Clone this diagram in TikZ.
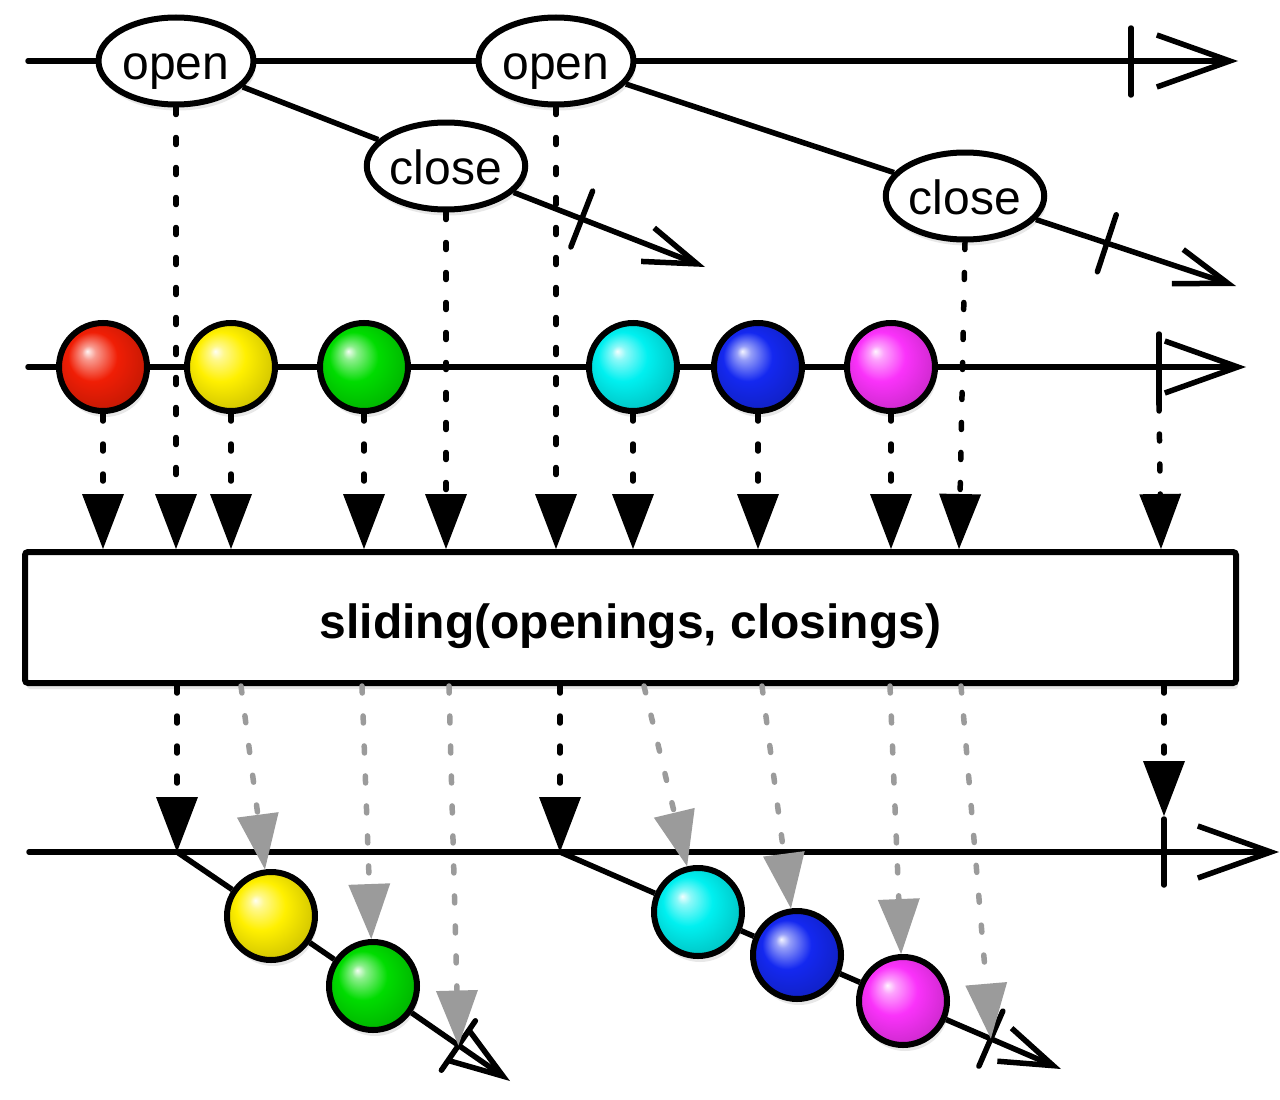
\documentclass[tikz,border=0pt]{standalone}
\usepackage{fontspec}
\setmainfont{Liberation Sans}
\usetikzlibrary{arrows.meta,calc,shapes.geometric,shadows}

\definecolor{ballred}{RGB}{240,30,5}
\definecolor{ballyellow}{RGB}{255,240,0}
\definecolor{ballgreen}{RGB}{0,220,0}
\definecolor{ballcyan}{RGB}{0,240,240}
\definecolor{ballblue}{RGB}{20,40,240}
\definecolor{ballmagenta}{RGB}{250,50,250}
\definecolor{dimgray}{RGB}{155,155,155}

\colorlet{ballcol}{red}
\pgfdeclareradialshading[ballcol]{glossy}{\pgfpoint{-9bp}{9bp}}{%
  color(0bp)=(ballcol!5!white); color(4bp)=(ballcol!45!white);
  color(14bp)=(ballcol); color(26bp)=(ballcol!85!black); color(40bp)=(ballcol!55!black)}

\tikzset{
  softshadow/.style={drop shadow={shadow xshift=2pt,shadow yshift=-6pt,opacity=0.18}},
  axis/.style={line width=5.5pt, line cap=round, -{Straight Barb[length=73pt,width=52pt]}},
  branch/.style={line width=5.5pt, -{Straight Barb[length=53pt,width=36pt]}},
  tickmark/.style={line width=5.5pt, line cap=round},
  event/.style={ellipse, draw, fill=white, line width=6pt, minimum width=155pt,
    minimum height=87pt, inner sep=0pt, text height=46pt, text depth=10pt,
    font=\fontsize{48}{56}\selectfont, softshadow},
  marble/.style={circle, draw, line width=6pt, minimum size=88pt, inner sep=0pt,
    /utils/exec={\colorlet{ballcol}{#1}}, shade, shading=glossy, softshadow},
  opbox/.style={draw, fill=white, line width=6pt, rounded corners=3pt,
    minimum width=1211pt, minimum height=131pt, inner sep=0pt,
    text height=51pt, text depth=10pt,
    font=\bfseries\fontsize{48}{56}\selectfont, softshadow},
  dotarrow/.style={line width=5.5pt, line cap=round, dash pattern=on 7pt off 23pt,
    -{Triangle[width=42pt,length=55pt,line width=0pt]}},
  grayarrow/.style={dotarrow, dimgray}
}

\begin{document}
\begin{tikzpicture}[x=1pt,y=-1pt]
  \useasboundingbox (0,0) rectangle (1280,1100);

  % openings and closings
  \node[event] (open1) at (176,61) {open};
  \node[event] (open2) at (556,61) {open};
  \node[event] (close1) at (446,166) {close};
  \node[event] (close2) at (965,196) {close};
  \coordinate (t0) at (28,61);
  \coordinate (t1) at (1238,61);
  \coordinate (e1) at (705,267);
  \coordinate (e2) at (1236,286);
  \draw[axis] (t0) -- (open1) -- (open2) -- (t1);
  \draw[tickmark] (1131,28) -- (1131,95);
  \draw[line width=5.5pt] (open1) -- (close1);
  \draw[branch] (close1) -- (e1);
  \draw[line width=5.5pt] (open2) -- (close2);
  \draw[branch] (close2) -- (e2);
  \coordinate (k1) at ($(open1)!0.767!(e1)$);
  \coordinate (k2) at ($(open2)!0.81!(e2)$);
  \draw[tickmark] ($(k1)!30pt!90:(e1)$) -- ($(k1)!30pt!-90:(e1)$);
  \draw[tickmark] ($(k2)!30pt!90:(e2)$) -- ($(k2)!30pt!-90:(e2)$);

  % source marbles
  \foreach \n/\x/\c in {red/103/ballred, yel/231/ballyellow, grn/364/ballgreen,
      cyn/633/ballcyan, blu/758/ballblue, mag/891/ballmagenta}
    \node[marble=\c] (\n) at (\x,367) {};
  \coordinate (m0) at (28,367);
  \coordinate (m1) at (1246,367);
  \coordinate (mtt) at (1159,334);
  \coordinate (mtb) at (1159,404);
  \draw[axis] (m0) -- (red) -- (yel) -- (grn) -- (cyn) -- (blu) -- (mag) -- (m1);
  \draw[tickmark] (mtt) -- (mtb);

  % operator
  \node[opbox] (box) at (630.5,617.5) {sliding(openings, closings)};

  \foreach \n in {open1,open2,close1,red,yel,grn,cyn,blu,mag}
    \draw[dotarrow] (\n.south) -- (\n.south |- box.north);
  \draw[dotarrow] (close2.south) -- ($(close2.south |- box.north)+(-6,0)$);
  \draw[dotarrow] (mtb) -- ($(mtb |- box.north)+(2,0)$);

  % result windows
  \coordinate (l0) at (29,852);
  \coordinate (l1) at (1279,852);
  \coordinate (b1s) at (177,852);
  \coordinate (b2s) at (560,852);
  \coordinate (e3) at (510,1081);
  \coordinate (e4) at (1061,1069);
  \coordinate (btt) at (1164,816);
  \coordinate (btb) at (1164,885);
  \draw[axis] (l0) -- (l1);
  \draw[tickmark] (1164,819) -- (btb);

  \node[marble=ballyellow] (yel2) at (271,916) {};
  \node[marble=ballgreen] (grn2) at (373,986) {};
  \node[marble=ballcyan] (cyn2) at (698,912) {};
  \node[marble=ballblue] (blu2) at (797,955) {};
  \node[marble=ballmagenta] (mag2) at (903,1001) {};
  \draw[line width=5.5pt] (b1s) -- (yel2) -- (grn2);
  \draw[branch] (grn2) -- (e3);
  \draw[line width=5.5pt] (b2s) -- (cyn2) -- (blu2) -- (mag2);
  \draw[branch] (mag2) -- (e4);
  \coordinate (k3) at ($(b1s)!0.845!(e3)$);
  \coordinate (k4) at ($(b2s)!0.86!(e4)$);
  \draw[tickmark] ($(k3)!30pt!90:(e3)$) -- ($(k3)!30pt!-90:(e3)$);
  \draw[tickmark] ($(k4)!30pt!90:(e4)$) -- ($(k4)!30pt!-90:(e4)$);

  \foreach \n in {b1s,b2s,btt}
    \draw[dotarrow] (\n |- box.south) -- (\n);
  \foreach \x/\t in {241/yel2, 362/grn2, 449/k3, 644/cyn2, 762/blu2, 890/mag2, 961/k4}
    \draw[grayarrow] (\x,0 |- box.south) -- (\t);
\end{tikzpicture}
\end{document}
